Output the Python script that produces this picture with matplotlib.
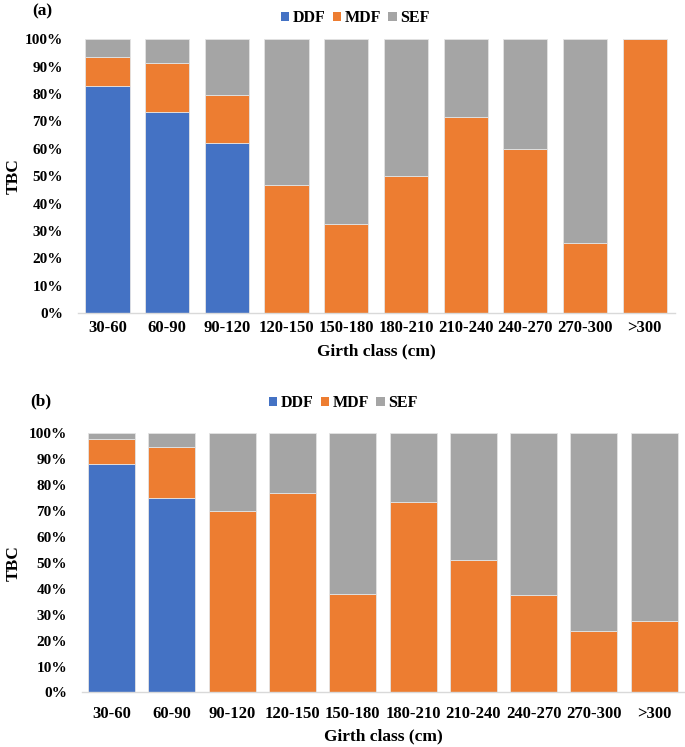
import matplotlib
matplotlib.use("Agg")
import matplotlib.pyplot as plt
from matplotlib.patches import Patch
import numpy as np

categories = ["30-60", "60-90", "90-120", "120-150", "150-180", "180-210",
              "210-240", "240-270", "270-300", ">300"]
series = ["DDF", "MDF", "SEF"]

# Panel (a) percentages
a_ddf = [83.0, 73.5, 62.0, 0, 0, 0, 0, 0, 0, 0]
a_mdf = [10.5, 18.0, 17.5, 47.0, 32.5, 50.0, 71.5, 60.0, 25.5, 100.0]
a_sef = [6.5, 8.5, 20.5, 53.0, 67.5, 50.0, 28.5, 40.0, 74.5, 0.0]

# Panel (b) percentages
b_ddf = [88.0, 75.0, 0, 0, 0, 0, 0, 0, 0, 0]
b_mdf = [9.5, 19.5, 70.0, 77.0, 38.0, 73.5, 51.0, 37.5, 23.5, 27.5]
b_sef = [2.5, 5.5, 30.0, 23.0, 62.0, 26.5, 49.0, 62.5, 76.5, 72.5]

yticks = [0, 10, 20, 30, 40, 50, 60, 70, 80, 90, 100]
ytick_labels = [f"{v}%" for v in yticks]

colors = ["#4472C4", "#ED7D31", "#A5A5A5"]
font = ["Liberation Serif", "DejaVu Serif"]
plt.rcParams["font.family"] = font
plt.rcParams["font.weight"] = "bold"

W, H = 685, 747
fig = plt.figure(figsize=(W / 100, H / 100), dpi=100)

def panel(rect, vals, width, letter, letter_xy, legend_xy, xpad, xlabelpad):
    ax = fig.add_axes(rect)
    x = np.arange(len(categories))
    bottom = np.zeros(len(categories))
    for v, c in zip(vals, colors):
        v = np.array(v, dtype=float)
        ax.bar(x, v, width, bottom=bottom, color=c, edgecolor="#E4E4E4",
               linewidth=0.6)
        bottom += v
    ax.set_xlim(-0.5, len(categories) - 0.5)
    ax.set_ylim(0, 100)
    ax.set_yticks(yticks)
    ax.set_yticklabels(ytick_labels, fontsize=11, fontweight="bold")
    ax.set_xticks(x)
    ax.set_xticklabels(categories, fontsize=12, fontweight="bold")
    ax.tick_params(axis="y", length=0, pad=10.5)
    ax.tick_params(axis="x", length=0, pad=xpad)
    for s in ["top", "right", "left"]:
        ax.spines[s].set_visible(False)
    ax.spines["bottom"].set_color("#D9D9D9")
    ax.spines["bottom"].set_linewidth(1.0)
    ax.set_xlabel("Girth class (cm)", fontsize=12.5, fontweight="bold",
                  labelpad=xlabelpad)
    ax.set_ylabel("TBC", fontsize=12.5, fontweight="bold", va="center")
    axw = rect[2] * W
    ax.yaxis.set_label_coords((14 - rect[0] * W) / axw, 0.5)
    fig.text(letter_xy[0] / W, 1 - letter_xy[1] / H, letter, fontsize=12.5,
             fontweight="bold", va="center", ha="left")
    handles = [Patch(facecolor=c, edgecolor="none", label=s)
               for s, c in zip(series, colors)]
    fig.legend(handles=handles, loc="center", ncol=3,
               bbox_to_anchor=(legend_xy[0] / W, 1 - legend_xy[1] / H),
               frameon=False, handlelength=0.55, handleheight=0.55,
               handletextpad=0.2, columnspacing=0.45, borderpad=0.1,
               prop={"weight": "bold", "size": 11.5, "family": font})
    return ax

panel([0.1133, 0.5806, 0.8715, 0.3668], [a_ddf, a_mdf, a_sef], 0.74,
      "(a)", (32, 11), (355, 18), 5, 5)
panel([0.1190, 0.0730, 0.8800, 0.3474], [b_ddf, b_mdf, b_sef], 0.78,
      "(b)", (30, 401), (343, 403), 9.5, 4.5)

fig.savefig("out.png", dpi=100)
